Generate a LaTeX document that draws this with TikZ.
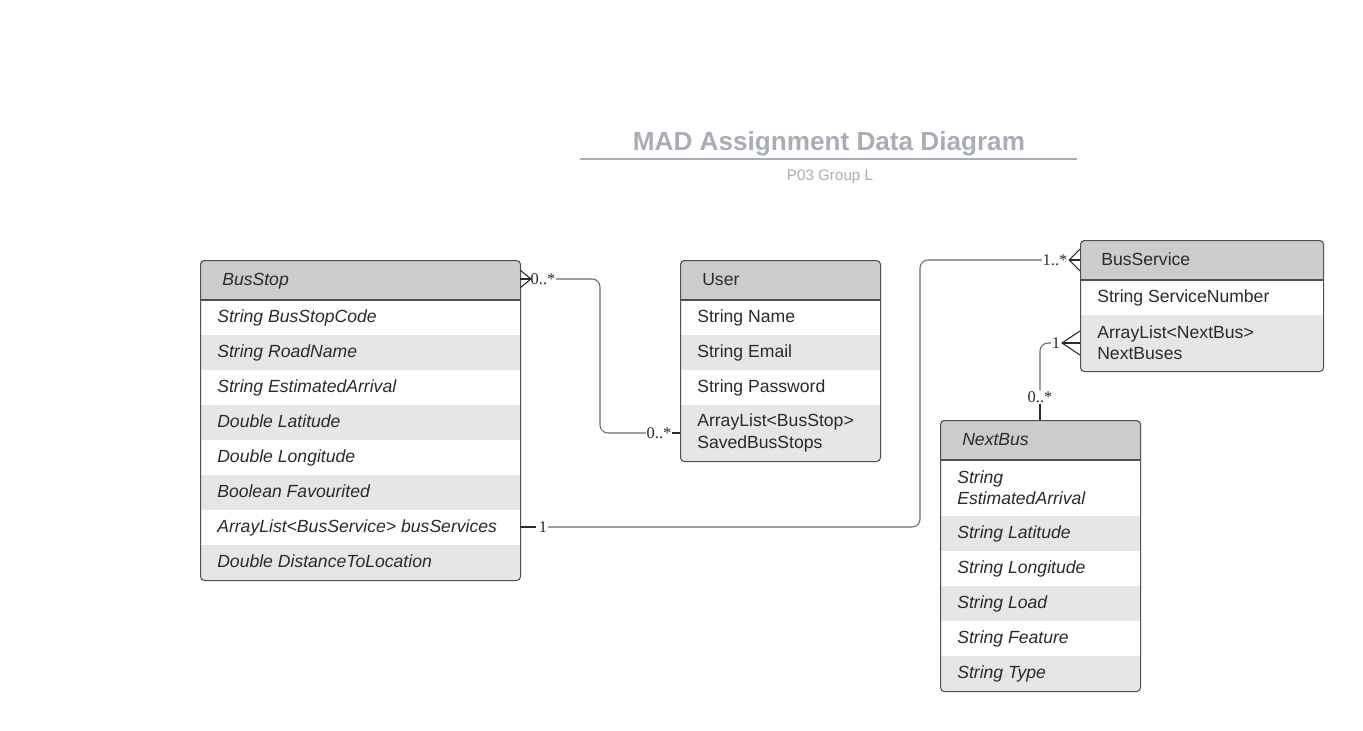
\documentclass[tikz,border=0pt]{standalone}
\usepackage{fontspec}
\setmainfont{Liberation Sans}
\newfontfamily\labelfont{Liberation Serif}
\definecolor{bordercol}{HTML}{505050}
\definecolor{hdrcol}{HTML}{CCCCCC}
\definecolor{altcol}{HTML}{E6E6E6}
\definecolor{titlecol}{HTML}{A8ADB6}
\definecolor{linecol}{HTML}{6A6A6A}
\definecolor{textcol}{HTML}{2A2A2A}
\newcommand\rowfont{\fontsize{13.2}{16}\selectfont}
\tikzset{
  frame/.style={draw=bordercol, line width=0.8pt, rounded corners=3pt, anchor=north west, inner sep=0pt},
  rowtext/.style={anchor=west, inner sep=0pt, font=\rowfont, text=textcol, align=left},
  onerow/.style={rowtext, text height=0.72em, text depth=0.02em},
  itrow/.style={onerow, font=\itshape\rowfont},
  sepline/.style={draw=bordercol, line width=0.8pt},
  conn/.style={draw=linecol, line width=0.8pt, rounded corners=6pt},
  stub/.style={draw=textcol, line width=1.6pt},
  crow/.style={draw=textcol, line width=0.8pt},
  mult/.style={font=\labelfont\fontsize{12.3}{14}\selectfont, text=textcol, inner sep=0.5pt},
}
\begin{document}
\begin{tikzpicture}[x=0.75pt,y=-0.75pt]
\useasboundingbox[fill=white] (0,0) rectangle (1363,731);

% Title
\node[font=\bfseries\fontsize{19.6}{22}\selectfont, text=titlecol] (title) at (829,143.5) {MAD Assignment Data Diagram};
\draw[titlecol, line width=1.1pt] (580,159) -- (1077,159);
\node[font=\fontsize{11.4}{13}\selectfont, text=titlecol] (subtitle) at (830,176.5) {P03 Group L};

% ---------- BusStop ----------
\begin{scope}
\clip[rounded corners=3pt] (200,260) rectangle (520,580);
\fill[hdrcol] (200,260) rectangle (520,300);
\foreach \y in {335,405,475,545} \fill[altcol] (200,\y) rectangle (520,\y+35);
\end{scope}
\draw[sepline] (200,300) -- (520,300);
\node[frame, minimum width=240pt, minimum height=240pt] (busstop) at (200,260) {};
\node[itrow] (bshdr) at (222,281) {BusStop};
\foreach \t [count=\i] in {String BusStopCode, String RoadName, String EstimatedArrival, Double Latitude, Double Longitude, Boolean Favourited, ArrayList<BusService> busServices, Double DistanceToLocation}
  \node[itrow] (bs\i) at (217,283+35*\i) {\t};

% ---------- User ----------
\begin{scope}
\clip[rounded corners=3pt] (680,260) rectangle (880,461);
\fill[hdrcol] (680,260) rectangle (880,300);
\fill[altcol] (680,335) rectangle (880,370);
\fill[altcol] (680,405) rectangle (880,461);
\end{scope}
\draw[sepline] (680,300) -- (880,300);
\node[frame, minimum width=150pt, minimum height=150.75pt] (user) at (680,260) {};
\node[onerow] (ushdr) at (702,280.5) {User};
\node[onerow] (us1) at (697,318) {String Name};
\node[onerow] (us2) at (697,353) {String Email};
\node[onerow] (us3) at (697,388) {String Password};
\node[rowtext] (us4) at (697,433) {ArrayList<BusStop>\\SavedBusStops};

% ---------- BusService ----------
\begin{scope}
\clip[rounded corners=3pt] (1080,240) rectangle (1323,371);
\fill[hdrcol] (1080,240) rectangle (1323,280);
\fill[altcol] (1080,315) rectangle (1323,371);
\end{scope}
\draw[sepline] (1080,280) -- (1323,280);
\node[frame, minimum width=182.25pt, minimum height=98.25pt] (busservice) at (1080,240) {};
\node[onerow] (bvhdr) at (1101,260.5) {BusService};
\node[onerow] (bv1) at (1097,298) {String ServiceNumber};
\node[rowtext] (bv2) at (1097,343) {ArrayList<NextBus>\\NextBuses};

% ---------- NextBus ----------
\begin{scope}
\clip[rounded corners=3pt] (940,420) rectangle (1140,691);
\fill[hdrcol] (940,420) rectangle (1140,460);
\foreach \y in {516,586,656} \fill[altcol] (940,\y) rectangle (1140,\y+35);
\end{scope}
\draw[sepline] (940,460) -- (1140,460);
\node[frame, minimum width=150pt, minimum height=203.25pt] (nextbus) at (940,420) {};
\node[itrow] (nbhdr) at (962,440.5) {NextBus};
\node[rowtext, font=\itshape\rowfont] (nb1) at (957,488) {String\\EstimatedArrival};
\foreach \t [count=\i] in {String Latitude, String Longitude, String Load, String Feature, String Type}
  \node[itrow] (nb\the\numexpr\i+1\relax) at (957,499+35*\i) {\t};

% ---------- Connector BusStop -- User ----------
\coordinate (c1a) at (520,279);
\coordinate (c1tip) at (531,279);
\draw[crow] (520,270) -- (c1tip) -- (520,288);
\draw[stub] (c1a) -- (c1tip);
\node[mult] (m1a) at (543,279) {0..*};
\node[mult] (m1b) at (659,433) {0..*};
\coordinate (c1b) at (680,433);
\draw[conn] (m1a.east) -- (600,279) -- (600,433) -- (m1b.west);
\draw[stub] (m1b.east) -- (c1b);

% ---------- Connector BusStop -- BusService ----------
\coordinate (c2a) at (520,527);
\draw[stub] (c2a) -- (536,527);
\node[mult] (m2a) at (543,527) {1};
\node[mult] (m2b) at (1055,260) {1..*};
\coordinate (c2b) at (1080,260);
\coordinate (c2tip) at (1069,260);
\draw[conn] (m2a.east) -- (920,527) -- (920,260) -- (m2b.west);
\draw[stub] (c2tip) -- (c2b);
\draw[crow] (1080,249) -- (c2tip) -- (1080,271);

% ---------- Connector BusService -- NextBus ----------
\coordinate (c3a) at (1080,343);
\coordinate (c3tip) at (1062,343);
\draw[crow] (1080,331) -- (c3tip) -- (1080,355);
\draw[stub] (c3tip) -- (c3a);
\node[mult] (m3a) at (1056,343) {1};
\node[mult] (m3b) at (1040,397) {0..*};
\draw[conn] (m3a.west) -- (1040,343) -- (m3b.north);
\coordinate (c3b) at (1040,420);
\draw[stub] (m3b.south) -- (c3b);
\end{tikzpicture}
\end{document}
